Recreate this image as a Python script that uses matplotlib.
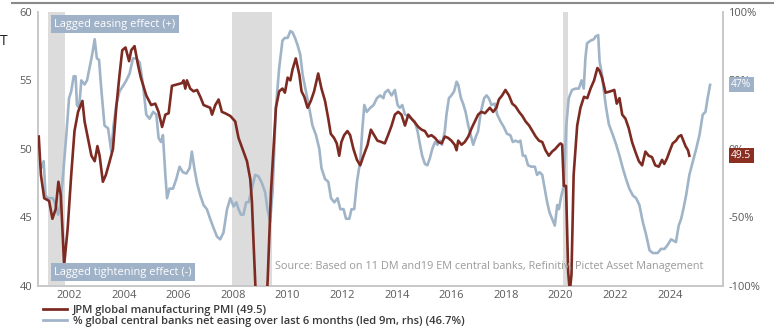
import matplotlib
matplotlib.use("Agg")
import matplotlib.pyplot as plt
from matplotlib.lines import Line2D

plt.rcParams['font.family'] = ['Open Sans', 'DejaVu Sans']

# JPM global manufacturing PMI (lhs), decimal years
pmi_years = [2000.88, 2000.96, 2001.08, 2001.26, 2001.38, 2001.5, 2001.6, 2001.69, 2001.81, 2001.94,
             2002.07, 2002.19, 2002.32, 2002.48, 2002.56, 2002.68, 2002.81, 2002.93, 2003.03, 2003.11,
             2003.23, 2003.34, 2003.48, 2003.6, 2003.72, 2003.84, 2003.94, 2004.06, 2004.19, 2004.27,
             2004.39, 2004.52, 2004.62, 2004.82, 2005.0, 2005.15, 2005.27, 2005.4, 2005.52, 2005.64,
             2005.76, 2005.95, 2006.13, 2006.19, 2006.25, 2006.31, 2006.43, 2006.55, 2006.68, 2006.8,
             2006.92, 2007.04, 2007.16, 2007.23, 2007.35, 2007.47, 2007.59, 2007.71, 2007.9, 2008.08,
             2008.2, 2008.38, 2008.51, 2008.63, 2008.69, 2008.75, 2008.85, 2008.95, 2009.05, 2009.15,
             2009.27, 2009.39, 2009.57, 2009.69, 2009.81, 2009.9, 2010.0, 2010.1, 2010.18, 2010.3,
             2010.43, 2010.51, 2010.61, 2010.73, 2010.85, 2010.97, 2011.12, 2011.24, 2011.37, 2011.49,
             2011.58, 2011.7, 2011.8, 2011.89, 2011.97, 2012.07, 2012.19, 2012.29, 2012.41, 2012.54,
             2012.66, 2012.78, 2012.93, 2013.05, 2013.17, 2013.29, 2013.44, 2013.56, 2013.68, 2013.81,
             2013.93, 2014.05, 2014.17, 2014.3, 2014.42, 2014.54, 2014.67, 2014.79, 2014.91, 2015.03,
             2015.15, 2015.27, 2015.4, 2015.52, 2015.64, 2015.76, 2015.88, 2016.0, 2016.12, 2016.19,
             2016.25, 2016.37, 2016.49, 2016.62, 2016.74, 2016.86, 2016.98, 2017.1, 2017.23, 2017.41,
             2017.53, 2017.65, 2017.74, 2017.86, 2017.98, 2018.11, 2018.23, 2018.35, 2018.48, 2018.6,
             2018.72, 2018.85, 2018.97, 2019.09, 2019.21, 2019.33, 2019.45, 2019.57, 2019.69, 2019.81,
             2019.94, 2020.0, 2020.06, 2020.12, 2020.2, 2020.28, 2020.34, 2020.4, 2020.48, 2020.61,
             2020.73, 2020.86, 2020.98, 2021.1, 2021.23, 2021.35, 2021.43, 2021.52, 2021.65, 2021.83,
             2021.97, 2022.06, 2022.16, 2022.26, 2022.38, 2022.5, 2022.62, 2022.74, 2022.87, 2022.99,
             2023.11, 2023.23, 2023.35, 2023.47, 2023.6, 2023.72, 2023.8, 2023.9, 2024.01, 2024.11,
             2024.23, 2024.33, 2024.42, 2024.5, 2024.58, 2024.67, 2024.72]
pmi_vals = [50.9, 48.1, 46.4, 46.2, 44.9, 45.6, 47.6, 46.6, 41.5, 44.2,
            48.1, 51.3, 52.7, 53.5, 52.0, 50.8, 49.5, 49.1, 50.2, 49.5,
            47.6, 48.1, 49.1, 50.0, 53.0, 55.4, 57.2, 57.4, 56.4, 57.2,
            57.5, 56.1, 55.2, 53.9, 53.2, 53.3, 52.7, 51.6, 52.5, 52.6,
            54.6, 54.7, 54.8, 55.0, 54.4, 55.0, 54.4, 54.2, 54.3, 53.8,
            53.2, 53.1, 53.0, 52.5, 53.2, 53.6, 52.7, 52.6, 52.4, 52.0,
            50.8, 49.8, 49.1, 47.8, 46.2, 43.2, 38.5, 34.5, 34.0, 36.0,
            40.5, 46.9, 53.0, 54.2, 54.4, 54.1, 55.2, 55.0, 55.8, 56.6,
            55.4, 54.2, 53.8, 53.0, 53.5, 54.2, 55.5, 54.4, 53.5, 52.2,
            51.1, 50.8, 50.4, 49.5, 50.5, 51.0, 51.3, 51.0, 50.0, 49.2,
            48.8, 49.5, 50.3, 51.4, 51.0, 50.6, 50.5, 50.4, 51.0, 51.7,
            52.5, 52.7, 52.5, 51.7, 52.5, 52.2, 51.9, 51.6, 51.4, 51.3,
            50.9, 51.0, 50.8, 50.5, 50.4, 50.9, 50.8, 50.6, 50.3, 49.9,
            50.6, 50.3, 50.5, 50.9, 51.5, 52.0, 52.5, 52.7, 52.6, 53.0,
            52.7, 53.0, 53.6, 53.9, 54.3, 53.9, 53.3, 53.1, 52.7, 52.4,
            52.0, 51.7, 51.3, 50.9, 50.6, 50.5, 49.9, 49.5, 49.8, 50.0,
            50.3, 50.4, 50.3, 47.3, 47.3, 41.0, 39.6, 40.8, 48.1, 51.7,
            53.0, 53.8, 53.7, 54.4, 55.0, 55.9, 55.7, 55.2, 54.1, 54.2,
            54.3, 53.3, 53.7, 52.5, 52.2, 51.5, 50.5, 49.8, 49.1, 48.8,
            49.8, 49.5, 49.4, 48.8, 48.7, 49.2, 48.9, 49.3, 49.9, 50.4,
            50.6, 50.9, 51.0, 50.6, 50.2, 49.9, 49.5]

# % global central banks net easing over last 6 months (led 9m, rhs)
ease_years = [2000.89, 2000.97, 2001.06, 2001.13, 2001.22, 2001.40, 2001.50, 2001.59, 2001.67, 2001.77,
              2001.89, 2001.99, 2002.07, 2002.16, 2002.23, 2002.28, 2002.36, 2002.44, 2002.56, 2002.65,
              2002.74, 2002.84, 2002.93, 2003.01, 2003.09, 2003.17, 2003.29, 2003.42, 2003.54, 2003.62,
              2003.72, 2003.84, 2003.97, 2004.09, 2004.21, 2004.33, 2004.45, 2004.58, 2004.70, 2004.82,
              2004.94, 2005.07, 2005.19, 2005.27, 2005.36, 2005.43, 2005.52, 2005.58, 2005.67, 2005.80,
              2005.92, 2006.04, 2006.16, 2006.29, 2006.41, 2006.49, 2006.58, 2006.68, 2006.80, 2006.92,
              2007.04, 2007.16, 2007.29, 2007.41, 2007.53, 2007.65, 2007.78, 2007.90, 2008.02, 2008.12,
              2008.20, 2008.29, 2008.38, 2008.48, 2008.57, 2008.69, 2008.81, 2008.93, 2009.06, 2009.18,
              2009.26, 2009.36, 2009.45, 2009.57, 2009.69, 2009.81, 2009.90, 2010.00, 2010.10, 2010.18,
              2010.27, 2010.36, 2010.46, 2010.55, 2010.67, 2010.79, 2010.91, 2011.04, 2011.16, 2011.24,
              2011.37, 2011.49, 2011.59, 2011.71, 2011.83, 2011.93, 2012.05, 2012.14, 2012.26, 2012.34,
              2012.44, 2012.54, 2012.66, 2012.74, 2012.81, 2012.90, 2013.03, 2013.15, 2013.27, 2013.39,
              2013.51, 2013.56, 2013.68, 2013.81, 2013.93, 2014.03, 2014.11, 2014.20, 2014.30, 2014.42,
              2014.54, 2014.66, 2014.76, 2014.85, 2014.93, 2015.03, 2015.12, 2015.21, 2015.30, 2015.40,
              2015.49, 2015.58, 2015.66, 2015.76, 2015.82, 2015.91, 2016.00, 2016.10, 2016.19, 2016.25,
              2016.35, 2016.43, 2016.52, 2016.62, 2016.71, 2016.80, 2016.88, 2016.98, 2017.08, 2017.20,
              2017.29, 2017.37, 2017.47, 2017.59, 2017.68, 2017.80, 2017.92, 2018.04, 2018.16, 2018.25,
              2018.35, 2018.45, 2018.53, 2018.62, 2018.71, 2018.81, 2018.93, 2019.06, 2019.14, 2019.23,
              2019.33, 2019.42, 2019.51, 2019.59, 2019.69, 2019.79, 2019.88, 2019.94, 2020.03, 2020.12,
              2020.21, 2020.30, 2020.42, 2020.55, 2020.67, 2020.77, 2020.85, 2020.91, 2020.97, 2021.10,
              2021.22, 2021.28, 2021.38, 2021.43, 2021.52, 2021.59, 2021.67, 2021.77, 2021.92, 2022.04,
              2022.16, 2022.28, 2022.40, 2022.52, 2022.65, 2022.77, 2022.89, 2023.01, 2023.14, 2023.26,
              2023.38, 2023.56, 2023.68, 2023.81, 2023.93, 2024.05, 2024.14, 2024.23, 2024.33, 2024.42,
              2024.50, 2024.60, 2024.72, 2024.85, 2024.97, 2025.09, 2025.21, 2025.31, 2025.39, 2025.48]
ease_vals = [-8, -14, -9, -34, -36, -36, -41, -48, -41, -19,
             10, 37, 42, 53, 53, 32, 30, 50, 47, 50,
             59, 69, 80, 66, 65, 44, 17, 15, -2, 17,
             32, 42, 46, 50, 55, 66, 66, 63, 47, 25,
             22, 27, 25, 8, 5, 10, -19, -36, -29, -29,
             -22, -13, -17, -18, -14, -2, -14, -25, -34, -41,
             -44, -51, -58, -64, -66, -61, -44, -36, -42, -39,
             -44, -48, -48, -39, -39, -29, -19, -20, -25, -32,
             -44, -53, -31, 30, 59, 79, 81, 81, 86, 85,
             81, 76, 69, 54, 42, 30, 17, 10, 0, -14,
             -22, -24, -36, -39, -36, -44, -44, -51, -51, -44,
             -44, -24, -9, 15, 32, 27, 30, 32, 37, 39,
             37, 41, 43, 39, 43, 32, 30, 32, 25, 24,
             22, 20, 13, 3, -5, -11, -12, -7, 0, 5,
             3, 6, 3, 13, 25, 37, 39, 42, 49, 47,
             37, 33, 27, 17, 10, 3, 8, 13, 27, 37,
             39, 37, 32, 33, 25, 20, 16, 11, 10, 5,
             6, 5, 6, -5, -5, -12, -13, -13, -19, -17,
             -19, -29, -39, -46, -51, -56, -41, -44, -34, -27,
             17, 37, 43, 44, 44, 50, 44, 66, 77, 79,
             80, 82, 83, 64, 54, 42, 30, 18, 10, 3,
             -5, -14, -22, -29, -34, -36, -41, -53, -63, -74,
             -76, -76, -73, -73, -70, -66, -67, -68, -56, -51,
             -44, -34, -19, -9, 0, 10, 25, 27, 37, 46.7]

# shaded periods
shade_periods = [(2001.23, 2001.85), (2007.97, 2009.44), (2020.1, 2020.28)]

x_ticks = [2002, 2004, 2006, 2008, 2010, 2012, 2014, 2016, 2018, 2020, 2022, 2024]
pmi_ticks = [40, 45, 50, 55, 60]
ease_ticks = [-100, -50, 0, 50, 100]

red = '#7d2b22'
blue = '#a0b4c8'
tick_col = '#5a5a5a'

fig = plt.figure(figsize=(7.74, 3.29), dpi=100)
ax = fig.add_axes([0.049, 0.131, 0.885, 0.833])
ax2 = ax.twinx()

# red line on top of blue
ax.set_zorder(ax2.get_zorder() + 1)
ax.patch.set_visible(False)

for start, end in shade_periods:
    ax2.axvspan(start, end, color='#dcdcdc', lw=0, zorder=0)

ax2.plot(ease_years, ease_vals, color=blue, lw=1.9, zorder=2)
ax.plot(pmi_years, pmi_vals, color=red, lw=1.9, zorder=3)

ax.set_xlim(2000.85, 2025.95)
ax.set_ylim(40, 60)
ax2.set_ylim(-100, 100)
ax.set_xticks(x_ticks)
ax.set_yticks(pmi_ticks)
ax2.set_yticks(ease_ticks)
ax2.set_yticklabels(['{}%'.format(v) for v in ease_ticks])

for a in (ax, ax2):
    a.tick_params(length=0, labelsize=8, colors=tick_col, pad=4)
    a.spines['top'].set_visible(False)
    for s in ('left', 'right', 'bottom'):
        a.spines[s].set_color('#c8c8c8')
        a.spines[s].set_linewidth(1.2)
    for lab in a.get_xticklabels() + a.get_yticklabels():
        lab.set_fontweight('medium')
ax.tick_params(axis='x', pad=3)

box_kw = dict(facecolor='#9fb2c8', edgecolor='none', pad=2.5)
ax.text(0.024, 0.975, 'Lagged easing effect (+)', transform=ax.transAxes, ha='left', va='top',
        color='white', fontsize=7.9, bbox=box_kw)
ax.text(0.024, 0.03, 'Lagged tightening effect (-)', transform=ax.transAxes, ha='left', va='bottom',
        color='white', fontsize=7.9, bbox=box_kw)
ax.text(0.972, 0.05, 'Source: Based on 11 DM and19 EM central banks, Refinitiv, Pictet Asset Management',
        transform=ax.transAxes, ha='right', va='bottom', color='#9a9a9a', fontsize=7.8)

# last value labels on the right axis
ax2.annotate('47%', xy=(1, ease_vals[-1]), xycoords=('axes fraction', 'data'),
             xytext=(6, 0), textcoords='offset points', ha='left', va='center',
             color='white', fontsize=7.4, zorder=10,
             bbox=dict(facecolor='#9fb2c8', edgecolor='none', pad=1.5))
ax.annotate('49.5', xy=(1, pmi_vals[-1]), xycoords=('axes fraction', 'data'),
            xytext=(6, 0), textcoords='offset points', ha='left', va='center',
            color='white', fontsize=7.4, zorder=10,
            bbox=dict(facecolor='#8a2f22', edgecolor='none', pad=1.5))

handles = [Line2D([], [], color=red, lw=2),
           Line2D([], [], color=blue, lw=2)]
labels = ['JPM global manufacturing PMI (49.5)',
          '% global central banks net easing over last 6 months (led 9m, rhs) (46.7%)']
leg = fig.legend(handles, labels, loc='lower left', bbox_to_anchor=(0.045, -0.018), frameon=False,
                 fontsize=8, handlelength=2.2, handletextpad=0.5, labelspacing=0.0,
                 borderpad=0.2)
for t in leg.get_texts():
    t.set_color('#3a3a3a')
    t.set_fontweight('semibold')

# page remnants
fig.add_artist(Line2D([12 / 774, 1], [0.99, 0.99], color='#8a8a8a', lw=1.5))
fig.text(0.0, 0.875, 'T', fontsize=10, color='#222222', ha='left', va='center')

fig.savefig('out.png', dpi=100)
